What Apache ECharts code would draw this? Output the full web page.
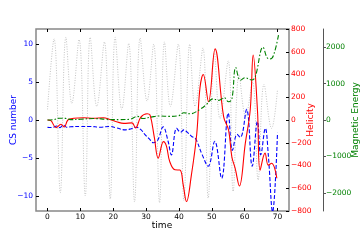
<!DOCTYPE html>
<html>
<head>
<meta charset="utf-8">
<script src="https://cdn.jsdelivr.net/npm/echarts@6/dist/echarts.min.js"></script>
<style>html,body{margin:0;padding:0;background:#fff}#c{width:361px;height:241px}</style>
</head>
<body>
<div id="c"></div>
<script>
// ---- data ----
const xTicks = [0, 10, 20, 30, 40, 50, 60, 70];
const csTicks = [-10, -5, 0, 5, 10];
const magTicks = [-2000, -1000, 0, 1000, 2000];

// gray dotted oscillation (left axis)
const grayT = [0, 2.0, 3.9, 5.6, 7.4, 9.6, 11.5, 13.0, 15.0, 17.3, 19.1, 20.6, 22.6, 24.7, 26.5, 28.2, 30.3, 32.3, 34.1, 35.6, 37.4, 39.8, 41.5, 43.3, 44.9, 47.3, 48.9, 50.8, 52.5, 55.0, 56.5, 58.3, 60.3, 62.4, 64.1, 65.9, 68.2, 70.0];
const grayV = [1.4, 10.7, -9.6, 10.9, 2.2, 10.6, -10.0, 10.9, 1.8, 10.3, -10.4, 10.9, 1.4, 10.1, -10.8, 10.8, 2.5, 10.0, -10.9, 10.3, 1.8, 10.0, -10.6, 10.0, 1.8, 9.5, -10.3, 9.0, 0.2, 7.8, -9.4, 6.0, 0.5, 5.0, -7.9, 4.7, -1.1, 4.0];

// CS number (blue dashed, left axis)
const csT = [0, 1.5, 2.8, 3.8, 4.8, 5.8, 7, 10, 13, 16, 19, 21, 23.7, 25.5, 27, 28.5, 29.6, 31, 32.2, 33.5, 35.2, 36.7, 37.7, 39.3, 40.5, 41.5, 42.5, 44, 45, 47.1, 48.9, 50.9, 53.0, 55.0, 56.3, 57.7, 58.7, 60.6, 62.3, 63.9, 64.9, 66.3, 67.2, 68.5, 70];
const csV = [-0.97, -1.0, -0.8, -1.0, -0.65, -0.95, -0.9, -0.85, -0.85, -0.95, -0.85, -1.05, -1.3, -1.15, -0.95, -1.3, -1.9, -2.5, -3.0, -2.7, -0.9, -2.8, -4.6, -1.1, -1.6, -1.3, -1.6, -2.2, -2.4, -4.6, -6.1, -2.8, -7.7, 0.9, -4.0, -1.9, -2.3, 1.4, -6.1, -0.2, -4.6, -1.1, -4.6, -12.1, -1.7];

// Helicity (red solid, right axis)
const helT = [0, 1.0, 2.6, 4.1, 5.1, 6.2, 8, 11, 14, 17, 19, 21, 23.2, 25.7, 26.8, 28.4, 30.3, 31.2, 32.5, 33.7, 35.3, 36.2, 37.2, 38.8, 40.3, 41.3, 42.3, 43.8, 45.4, 46.4, 47.4, 49.0, 51.0, 53.6, 55.1, 56.1, 57.1, 58.4, 60.2, 61.7, 62.6, 63.9, 64.7, 66.2, 67.2, 68.2, 69.8];
const helV = [0, -5, -68, -38, -62, 0, 15, 20, 15, 20, 5, -15, -30, -25, -70, 25, 55, 45, -150, -335, -190, -230, -365, -438, -440, -570, -717, -482, -130, 282, 400, 161, 625, 30, -88, -323, -423, -580, -205, 88, 570, 88, -441, -291, -397, -380, -512];

// Magnetic energy (green dash-dot, offset right axis)
const magT = [0, 2, 3.5, 5.5, 7, 10, 14, 18, 22, 25, 27.5, 29, 31.5, 34, 37, 40, 41.5, 43.4, 46.5, 48.3, 50.3, 52.1, 53.8, 55.1, 56.1, 57.3, 58.7, 60.1, 62.1, 63.2, 65.6, 66.8, 67.8, 68.8, 70.3];
const magV = [0, 10, 50, 45, 10, 20, 40, 20, 10, 20, 100, 40, 80, 110, 100, 120, 200, 170, 300, 420, 580, 540, 610, 500, 570, 1440, 1090, 1160, 1100, 1180, 2000, 1720, 1680, 1780, 2330];

function pairs(t, v) { return t.map((x, i) => [x, v[i]]); }
const fmt = v => (v < 0 ? '\u2212' + Math.abs(v) : String(v));
const FONT = 'DejaVu Sans';

function vTitle(text, x, color) {
  return {
    type: 'text', x: x, y: 120, rotation: Math.PI / 2, silent: true,
    style: { text: text, fill: color, font: '9px "DejaVu Sans"', align: 'center', verticalAlign: 'middle' }
  };
}

const chart = echarts.init(document.getElementById('c'), null, { renderer: 'canvas' });
chart.setOption({
  animation: false,
  textStyle: { fontFamily: FONT },
  grid: { left: 36, right: 72, top: 29, bottom: 30, containLabel: false, outerBoundsMode: 'none',
          show: true, borderColor: '#888', borderWidth: 1.5, backgroundColor: 'transparent' },
  graphic: [
    vTitle('CS number', 14, '#0000ff'),
    vTitle('Helicity', 311, '#ff0000'),
    vTitle('Magnetic Energy', 356, '#008000'),
    {
      type: 'text', x: 162, y: 226, silent: true,
      style: { text: 'time', fill: '#000', font: '9px "DejaVu Sans"', align: 'center', verticalAlign: 'middle' }
    }
  ],
  xAxis: [
    {
      type: 'value', min: -3.5, max: 73.5, position: 'bottom',
      axisLine: { show: false, onZero: false },
      axisTick: { show: true, inside: true, length: 3, customValues: xTicks, lineStyle: { color: '#000' } },
      axisLabel: { customValues: xTicks, formatter: fmt, fontSize: 7.5, color: '#000', margin: 2, fontFamily: FONT },
      splitLine: { show: false }
    },
    {
      type: 'value', min: -3.5, max: 73.5, position: 'top',
      axisLine: { show: false, onZero: false },
      axisTick: { show: true, inside: true, length: 3, customValues: xTicks, lineStyle: { color: '#000' } },
      axisLabel: { show: false },
      splitLine: { show: false }
    }
  ],
  yAxis: [
    {
      type: 'value', min: -12, max: 12, position: 'left',
      axisLine: { show: false, onZero: false },
      axisTick: { show: true, inside: true, length: 3, customValues: csTicks, lineStyle: { color: '#000' } },
      axisLabel: { customValues: csTicks, formatter: fmt, fontSize: 7.5, color: '#0000ff', margin: 3, fontFamily: FONT },
      splitLine: { show: false }
    },
    {
      type: 'value', min: -800, max: 800, interval: 200, position: 'right',
      axisLine: { show: false, onZero: false },
      axisTick: { show: true, inside: true, length: 3, lineStyle: { color: '#000' } },
      axisLabel: { formatter: fmt, fontSize: 7.5, color: '#ff0000', margin: 2, fontFamily: FONT },
      splitLine: { show: false }
    },
    {
      type: 'value', min: -2500, max: 2500, position: 'right', offset: 34,
      axisLine: { show: true, onZero: false, lineStyle: { color: '#555', width: 1 } },
      axisTick: { show: true, inside: false, length: 3, customValues: magTicks, lineStyle: { color: '#555' } },
      axisLabel: { customValues: magTicks, formatter: fmt, fontSize: 7.5, color: '#008000', margin: 3, fontFamily: FONT },
      splitLine: { show: false }
    }
  ],
  series: [
    {
      type: 'line', name: 'osc', xAxisIndex: 0, yAxisIndex: 0, data: pairs(grayT, grayV),
      smooth: 0.4, showSymbol: false, symbol: 'none',
      lineStyle: { color: '#b4b4b4', width: 0.8, type: [1, 1.5] }, z: 1
    },
    {
      type: 'line', name: 'CS number', xAxisIndex: 0, yAxisIndex: 0, data: pairs(csT, csV),
      smooth: 0.4, showSymbol: false, symbol: 'none',
      lineStyle: { color: '#0000ff', width: 1.1, type: [4, 2] }, z: 2
    },
    {
      type: 'line', name: 'Helicity', xAxisIndex: 0, yAxisIndex: 1, data: pairs(helT, helV),
      smooth: 0.4, showSymbol: false, symbol: 'none',
      lineStyle: { color: '#ff0000', width: 1.1 }, z: 3
    },
    {
      type: 'line', name: 'Magnetic Energy', xAxisIndex: 0, yAxisIndex: 2, data: pairs(magT, magV),
      smooth: 0.4, showSymbol: false, symbol: 'none',
      lineStyle: { color: '#008000', width: 1.1, type: [5, 2, 1.5, 2] }, z: 4
    }
  ]
});
</script>
</body>
</html>
